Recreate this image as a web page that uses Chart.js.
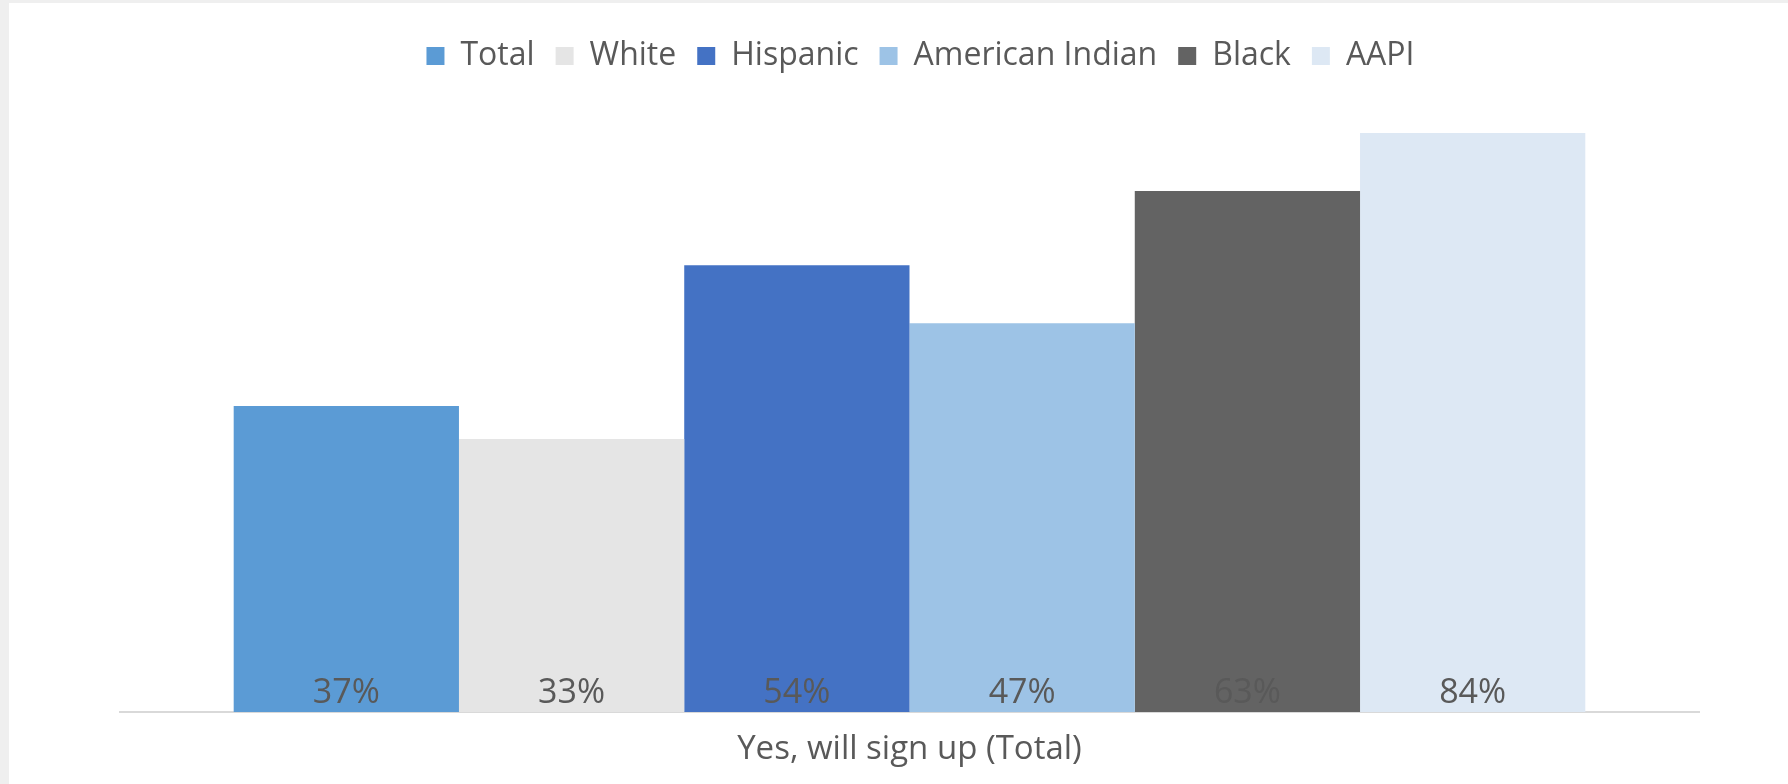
<!DOCTYPE html>
<html>
<head>
<meta charset="utf-8">
<script src="https://cdn.jsdelivr.net/npm/chart.js@4.4.1/dist/chart.umd.min.js"></script>
<style>
  html, body { margin: 0; padding: 0; background: #fff; }
  #wrap { position: relative; width: 1788px; height: 784px; }
  #frameL { position: absolute; left: 0; top: 0; width: 9px; height: 784px; background: #efefef; }
  #frameT { position: absolute; left: 0; top: 0; width: 1788px; height: 3px; background: #efefef; }
</style>
</head>
<body>
<div id="wrap">
  <canvas id="chart" width="1788" height="784"></canvas>
  <div id="frameL"></div>
  <div id="frameT"></div>
</div>
<script>
// data
const categories = ['Yes, will sign up (Total)'];
const groups = ['Total', 'White', 'Hispanic', 'American Indian', 'Black', 'AAPI'];
const values = [37, 33, 54, 47, 63, 84];
const colors = ['#5B9BD5', '#E5E5E5', '#4472C4', '#9DC3E6', '#636363', '#DDE8F4'];
const yMax = 70; // the axis in the source tops out here, so the AAPI bar gets cut off

const textGray = '#595959';

// writes the % value just above the base of each bar
const barLabels = {
  id: 'barLabels',
  afterDatasetsDraw(chart) {
    const ctx = chart.ctx;
    const base = chart.scales.y.getPixelForValue(0);
    ctx.save();
    ctx.font = '34px "Open Sans"';
    ctx.fillStyle = textGray;
    ctx.textAlign = 'center';
    ctx.textBaseline = 'middle';
    chart.data.datasets.forEach((ds, i) => {
      chart.getDatasetMeta(i).data.forEach((bar, j) => {
        ctx.fillText(ds.data[j] + '%', bar.x, base - 19);
      });
    });
    ctx.restore();
  }
};

// more room under the legend, and nudge it a bit to the right
const legendGap = {
  id: 'legendGap',
  beforeInit(chart) {
    const fit = chart.legend.fit;
    chart.legend.fit = function () {
      fit.call(this);
      this.height += 51;
    };
  },
  afterLayout(chart) {
    chart.legend.left += 22;
  }
};

const datasets = groups.map((g, i) => ({
  label: g,
  data: [values[i]],
  backgroundColor: colors[i],
  borderWidth: 0,
  clip: 0
}));

new Chart(document.getElementById('chart'), {
  type: 'bar',
  data: { labels: categories, datasets: datasets },
  options: {
    responsive: false,
    animation: false,
    categoryPercentage: 0.856,
    barPercentage: 1,
    layout: { padding: { left: 120, right: 89, top: 19, bottom: -3 } },
    plugins: {
      legend: {
        position: 'top',
        labels: {
          color: textGray,
          font: { family: 'Open Sans', size: 32 },
          boxWidth: 18,
          boxHeight: 18,
          padding: 21
        }
      },
      tooltip: { enabled: false }
    },
    scales: {
      x: {
        grid: { display: false, drawTicks: false },
        border: { color: '#D9D9D9', width: 2 },
        ticks: {
          color: textGray,
          font: { family: 'Open Sans', size: 33, lineHeight: 1 },
          padding: 21
        }
      },
      y: {
        display: false,
        min: 0,
        max: yMax
      }
    }
  },
  plugins: [barLabels, legendGap]
});
</script>
</body>
</html>
